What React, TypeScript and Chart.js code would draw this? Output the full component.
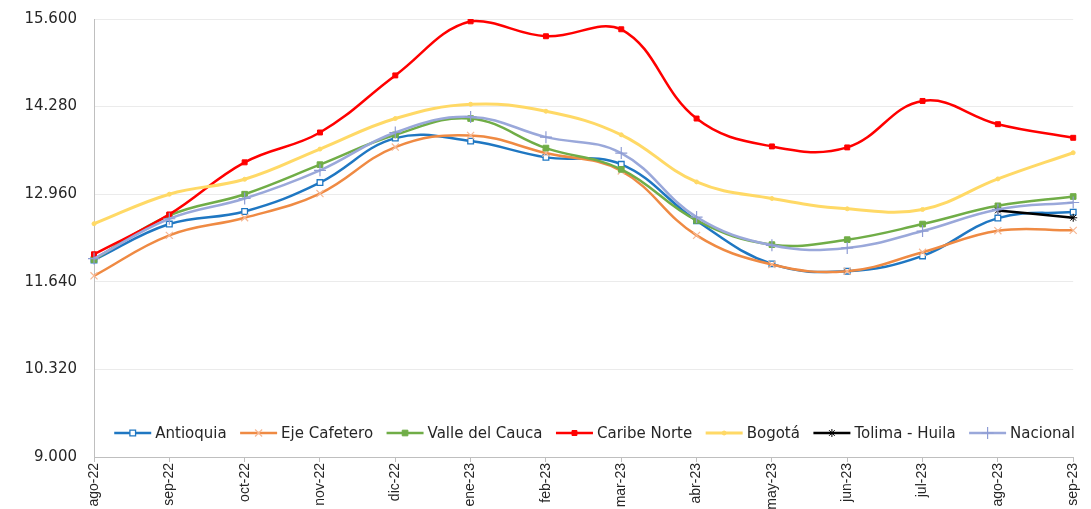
import React, { useEffect, useRef } from "react";
import { Chart, registerables } from "chart.js";
import { drawPoint } from "chart.js/helpers";

Chart.register(...registerables);

const months = ["ago-22", "sep-22", "oct-22", "nov-22", "dic-22", "ene-23", "feb-23", "mar-23", "abr-23", "may-23", "jun-23", "jul-23", "ago-23", "sep-23"];

const antioquia = [11970, 12510, 12700, 13135, 13805, 13760, 13515, 13410, 12560, 11910, 11800, 12030, 12600, 12690];
const ejeCafetero = [11730, 12340, 12605, 12970, 13670, 13845, 13580, 13310, 12340, 11900, 11800, 12085, 12410, 12415];
const valleDelCauca = [11975, 12640, 12960, 13405, 13855, 14100, 13655, 13335, 12565, 12200, 12275, 12510, 12785, 12925];
const caribeNorte = [12055, 12655, 13440, 13890, 14750, 15565, 15340, 15445, 14100, 13680, 13665, 14365, 14015, 13810];
const bogota = [12515, 12960, 13185, 13640, 14100, 14315, 14210, 13855, 13145, 12895, 12740, 12730, 13190, 13585];
const tolimaHuila = [null, null, null, null, null, null, null, null, null, null, null, null, 12715, 12605];
const nacional = [11990, 12590, 12895, 13320, 13890, 14125, 13820, 13580, 12615, 12190, 12150, 12405, 12730, 12835];

const yTicks = [9000, 10320, 11640, 12960, 14280, 15600];

function fmt(v: number): string {
  const th = Math.floor(v / 1000);
  const rest = String(Math.round(v % 1000)).padStart(3, "0");
  return th + "." + rest;
}

const legendPlugin = {
  id: "bottomLegend",
  afterDraw(chart: any) {
    const ctx = chart.ctx;
    const area = chart.chartArea;
    ctx.save();
    ctx.font = '15px "DejaVu Sans"';
    const lineLen = 37, gap = 4, spacing = 13.5;
    const items = chart.data.datasets.map((ds: any) => ({ ds, w: ctx.measureText(ds.label).width }));
    const total = items.reduce((s: number, it: any) => s + lineLen + gap + it.w, 0) + spacing * (items.length - 1);
    let x = (area.left + area.right) / 2 - total / 2 + 11;
    const y = area.bottom - 24;
    for (const it of items) {
      const ds = it.ds;
      ctx.strokeStyle = ds.borderColor;
      ctx.lineWidth = ds.borderWidth;
      ctx.beginPath();
      ctx.moveTo(x, y);
      ctx.lineTo(x + lineLen, y);
      ctx.stroke();
      ctx.fillStyle = ds.pointBackgroundColor;
      ctx.strokeStyle = ds.pointBorderColor;
      ctx.lineWidth = ds.pointBorderWidth;
      drawPoint(ctx, { pointStyle: ds.pointStyle, radius: ds.pointRadius, borderWidth: ds.pointBorderWidth, rotation: 0 }, x + lineLen / 2, y);
      ctx.fillStyle = "#262626";
      ctx.textBaseline = "middle";
      ctx.textAlign = "left";
      ctx.fillText(ds.label, x + lineLen + gap, y + 1);
      x += lineLen + gap + it.w + spacing;
    }
    ctx.restore();
  },
};

function series(label: string, data: any[], color: string, pointStyle: string, radius: number, pointBg: string, pointBorder: string, pointBorderWidth: number, width: number, order: number) {
  return {
    label,
    data,
    borderColor: color,
    backgroundColor: color,
    borderWidth: width,
    pointStyle,
    pointRadius: radius,
    pointBackgroundColor: pointBg,
    pointBorderColor: pointBorder,
    pointBorderWidth,
    tension: 0.4,
    fill: false,
    order,
  };
}

export default function App() {
  const ref = useRef<HTMLCanvasElement>(null);
  useEffect(() => {
    if (!ref.current) return;
    const chart = new Chart(ref.current, {
      type: "line",
      data: {
        labels: months,
        datasets: [
          series("Antioquia", antioquia, "#1F77C2", "rect", 4, "#FFFFFF", "#1F77C2", 1.3, 2.5, 7),
          series("Eje Cafetero", ejeCafetero, "#EF8A43", "crossRot", 5, "#F6B894", "#F6B894", 1.2, 2.5, 6),
          series("Valle del Cauca", valleDelCauca, "#70AD47", "rect", 4, "#70AD47", "#70AD47", 1, 2.5, 5),
          series("Caribe Norte", caribeNorte, "#FF0000", "rect", 3.5, "#FF0000", "#FF0000", 1, 2.5, 4),
          series("Bogotá", bogota, "#FFD966", "circle", 2, "#FFD966", "#FFD966", 1, 3, 3),
          series("Tolima - Huila", tolimaHuila, "#000000", "star", 4, "#000000", "#000000", 1, 2.5, 2),
          series("Nacional", nacional, "#9AA8DA", "cross", 6, "#9AA8DA", "#8E9CD4", 1.2, 2.5, 1),
        ],
      },
      options: {
        animation: false,
        responsive: false,
        layout: { padding: { top: 19, right: 10, left: 0, bottom: 0 } },
        plugins: {
          legend: { display: false },
          tooltip: { enabled: false },
        },
        scales: {
          x: {
            grid: { drawOnChartArea: false, drawTicks: true, tickLength: 5, color: "#BFBFBF" },
            border: { color: "#BFBFBF", width: 1 },
            ticks: {
              minRotation: 90,
              maxRotation: 90,
              autoSkip: false,
              padding: 1,
              color: "#262626",
              font: { family: "Liberation Sans", size: 14 },
            },
            afterFit: (scale: any) => { scale.height = 52; },
          },
          y: {
            min: 9000,
            max: 15600,
            grid: { color: "#EBEBEB", drawTicks: true, tickLength: 17, tickColor: "rgba(0,0,0,0)" },
            border: { color: "#BFBFBF", width: 1 },
            ticks: {
              padding: 0,
              color: "#262626",
              font: { family: "DejaVu Sans", size: 15 },
              callback: (v: any) => fmt(Number(v)),
            },
            afterBuildTicks: (scale: any) => { scale.ticks = yTicks.map((v) => ({ value: v })); },
            afterFit: (scale: any) => { scale.width = 94; },
          },
        },
      },
      plugins: [legendPlugin],
    } as any);
    return () => chart.destroy();
  }, []);
  return (
    <div style={{ position: "fixed", left: 0, top: 0, width: 1091, height: 509, background: "#fff" }}>
      <canvas ref={ref} width={1091} height={509} style={{ display: "block" }} />
    </div>
  );
}
